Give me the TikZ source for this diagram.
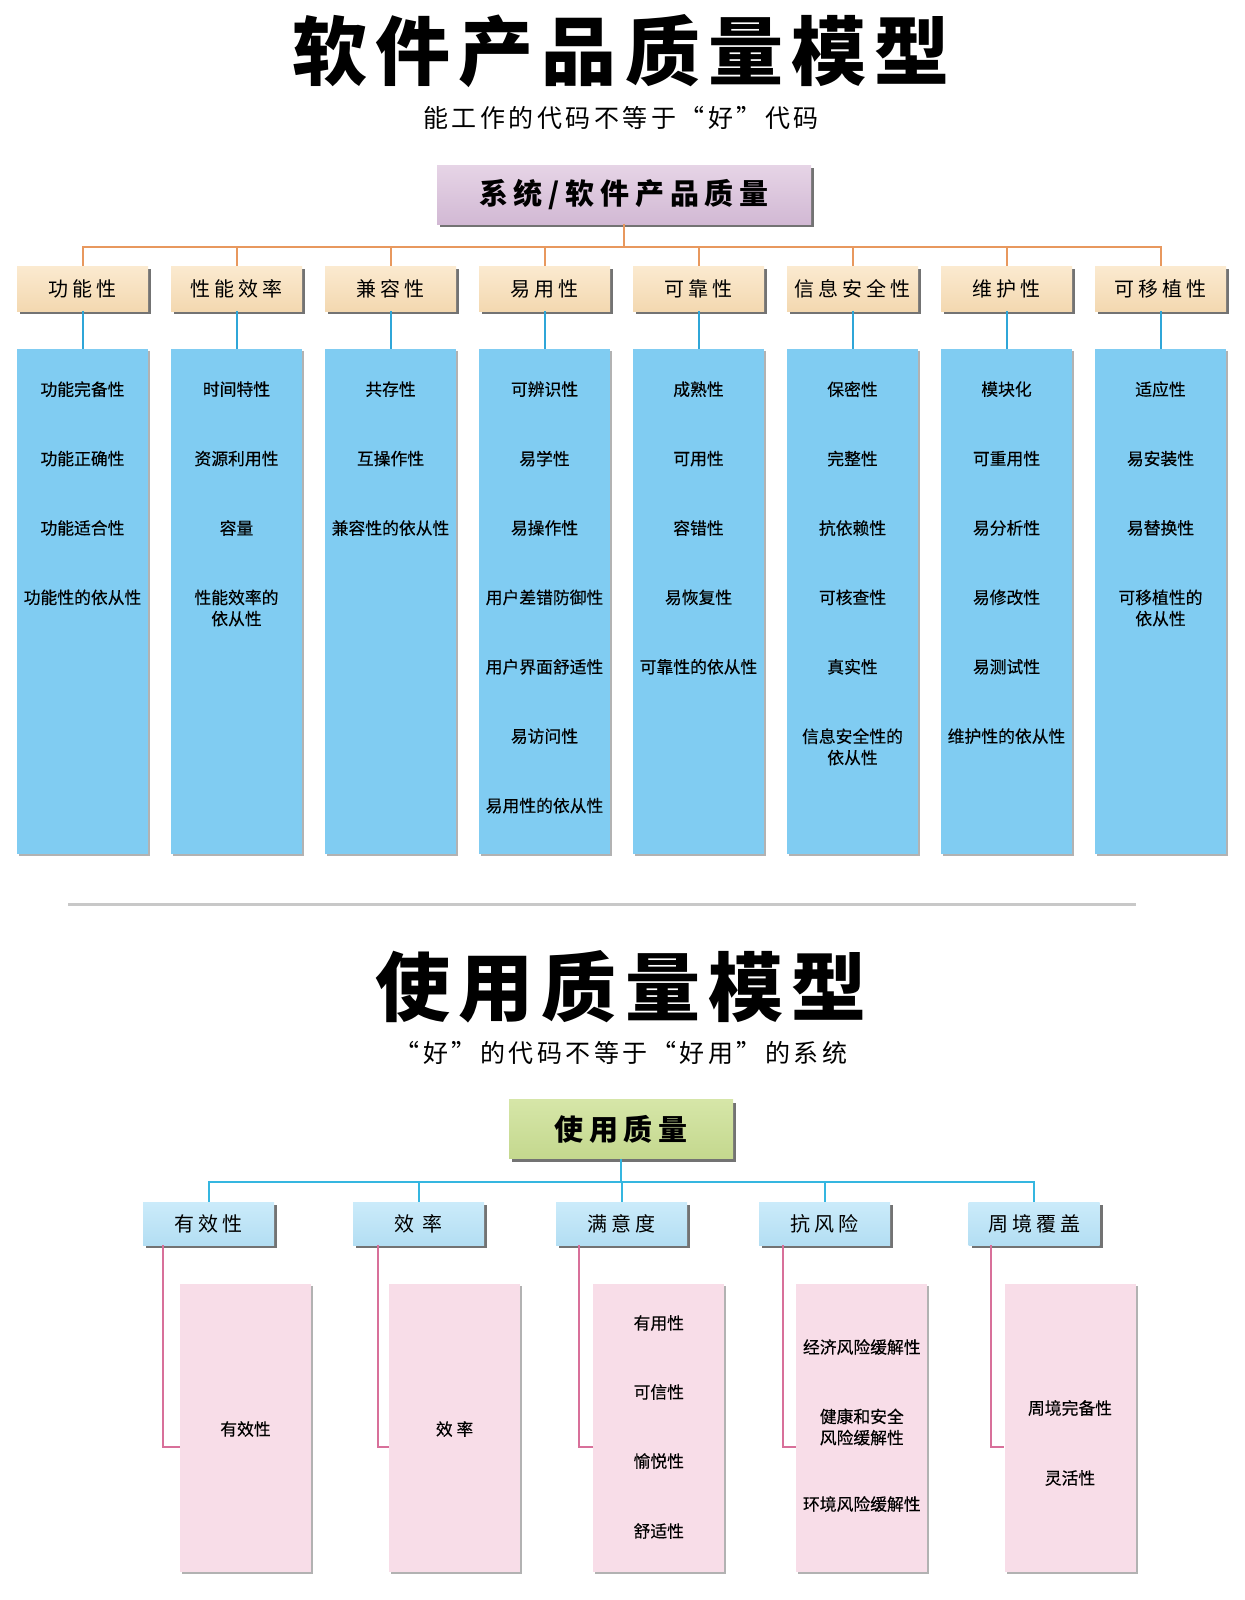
\documentclass[tikz,border=0pt]{standalone}
\usepackage{fontspec}
\setmainfont{Noto Sans CJK SC}
\newfontfamily\titlefont[LetterSpace=11]{Noto Sans CJK SC}
\newfontfamily\subfont[LetterSpace=14]{Noto Sans CJK SC}
\newfontfamily\rootfont[LetterSpace=20]{Noto Sans CJK SC}
\newfontfamily\headfont[LetterSpace=20]{Noto Sans CJK SC}
\newfontfamily\itemfont[FakeBold=0.3]{Noto Sans CJK SC}
\usepackage{tikz}
\usetikzlibrary{shadows}
\definecolor{lilacTop}{HTML}{E6D4E6}
\definecolor{lilacBot}{HTML}{D2B9D4}
\definecolor{beigeTop}{HTML}{FBEAD0}
\definecolor{beigeBot}{HTML}{F3D8B0}
\definecolor{skyBlue}{HTML}{80CCF2}
\definecolor{lineOrange}{HTML}{E8985E}
\definecolor{lineBlue}{HTML}{2FA6D8}
\definecolor{sepGray}{HTML}{C8C8C8}
\definecolor{greenTop}{HTML}{D6E6A8}
\definecolor{greenBot}{HTML}{C4D88E}
\definecolor{paleTop}{HTML}{CBEBFA}
\definecolor{paleBot}{HTML}{B3DEF3}
\definecolor{lineCyan}{HTML}{35B6E0}
\definecolor{pinkFill}{HTML}{F8DDE8}
\definecolor{linePink}{HTML}{D8709A}
\tikzset{
  bigtitle/.style={inner sep=0pt, font=\titlefont\bfseries\fontsize{37.5pt}{40pt}\selectfont},
  subtitle/.style={inner sep=0pt, font=\subfont\fontsize{12.5pt}{14pt}\selectfont},
  boxshadow/.style={drop shadow={shadow xshift=1.5pt, shadow yshift=-1.5pt, fill=black, opacity=0.55}},
  softshadow/.style={drop shadow={shadow xshift=1pt, shadow yshift=-1pt, fill=black, opacity=0.3}},
  rootbox/.style={boxshadow, inner sep=0pt, minimum height=29.5pt, font=\rootfont\bfseries\fontsize{14.5pt}{16pt}\selectfont},
  catbox/.style={boxshadow, inner sep=0pt, minimum width=65.5pt, minimum height=22.5pt, font=\headfont\fontsize{10pt}{12pt}\selectfont},
  subbox/.style={softshadow, inner sep=0pt, minimum width=65.5pt},
  item/.style={inner sep=0pt, align=center, font=\itemfont\fontsize{8.4pt}{10.6pt}\selectfont},
  bus/.style={line width=1pt},
  stem/.style={line width=1pt}
}

\begin{document}
\begin{tikzpicture}[x=0.5pt, y=-0.5pt]
  \useasboundingbox (0,0) rectangle (1244,1600);
  % software product quality
  \node[bigtitle] (title1) at (621,51) {软件产品质量模型};
  \node[subtitle] (sub1) at (621,118) {能工作的代码不等于“好”代码};
  \node[rootbox, minimum width=187pt, top color=lilacTop, bottom color=lilacBot] (sys) at (624,194.5) {系统/软件产品质量};
  \coordinate (bus1) at (624,247);
  \draw[bus, lineOrange] (sys.south) -- (bus1);
  \foreach \i/\lbl/\items in {
      1/功能性/{功能完备性,功能正确性,功能适合性,功能性的依从性},
      2/性能效率/{时间特性,资源利用性,容量,性能效率的\\依从性},
      3/兼容性/{共存性,互操作性,兼容性的依从性},
      4/易用性/{可辨识性,易学性,易操作性,用户差错防御性,用户界面舒适性,易访问性,易用性的依从性},
      5/可靠性/{成熟性,可用性,容错性,易恢复性,可靠性的依从性},
      6/信息安全性/{保密性,完整性,抗依赖性,可核查性,真实性,信息安全性的\\依从性},
      7/维护性/{模块化,可重用性,易分析性,易修改性,易测试性,维护性的依从性},
      8/可移植性/{适应性,易安装性,易替换性,可移植性的\\依从性}} {
    \node[catbox, top color=beigeTop, bottom color=beigeBot] (cat\i) at ({82.5+154*(\i-1)},288.5) {\lbl};
    \node[subbox, fill=skyBlue, minimum height=252.5pt] (box\i) at ({82.5+154*(\i-1)},601.5) {};
    \draw[bus, lineOrange] (cat\i.north) |- (bus1);
    \draw[stem, lineBlue] (cat\i.south) -- (box\i.north);
    \foreach \txt [count=\r] in \items {
      \node[item, anchor=north] (box\i-\r) at ({82.5+154*(\i-1)},{381+69.4*(\r-1)}) {\txt};
    }
  }
  % separator
  \draw[sepGray, line width=1.5pt] (68,904) -- (1136,904);
  % quality in use
  \node[bigtitle] (title2) at (621,987) {使用质量模型};
  \node[subtitle] (sub2) at (621,1053) {“好”的代码不等于“好用”的系统};
  \node[rootbox, minimum width=112pt, top color=greenTop, bottom color=greenBot, font=\rootfont\bfseries\fontsize{14.5pt}{16pt}\selectfont] (use) at (621,1129) {使用质量};
  \coordinate (bus2) at (621,1182);
  \draw[bus, lineCyan] (use.south) -- (bus2);
  \foreach \i/\lbl/\cx/\px/\off/\items in {
      1/有效性/208.5/245.5/10.2/{有效性/1429},
      2/效\ 率/418.5/454.6/12.7/{效\ 率/1429},
      3/满意度/621.5/658.8/11.7/{有用性/1323,可信性/1392,愉悦性/1461,舒适性/1531},
      4/抗风险/824.5/861.8/12.2/{经济风险缓解性/1347,健康和安全\\风险缓解性/1427,环境风险缓解性/1504},
      5/周境覆盖/1034/1070/11.2/{周境完备性/1408,灵活性/1478}} {
    \node[catbox, minimum height=21.5pt, top color=paleTop, bottom color=paleBot] (ucat\i) at (\cx,1223.5) {\lbl};
    \node[subbox, fill=pinkFill, minimum height=144pt] (pbox\i) at (\px,1428) {};
    \draw[bus, lineCyan] (ucat\i.north) |- (bus2);
    \draw[stem, linePink] ([xshift=\off pt]ucat\i.south west) |- ([yshift=-9.5pt]pbox\i.west);
    \foreach \txt/\yy [count=\r] in \items {
      \node[item] (pbox\i-\r) at (\px,\yy) {\txt};
    }
  }
\end{tikzpicture}
\end{document}
